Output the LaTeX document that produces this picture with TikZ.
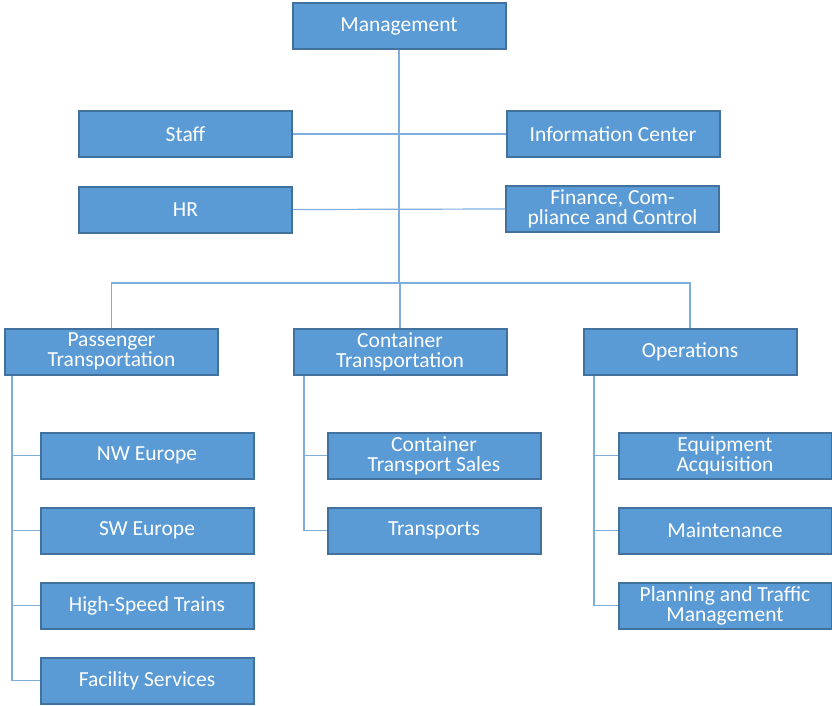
\documentclass[tikz,border=0pt]{standalone}
\usepackage{fontspec}
\setmainfont{Carlito}
\definecolor{boxfill}{HTML}{5B9BD5}
\definecolor{boxline}{HTML}{41719C}
\definecolor{connline}{HTML}{7FAEDD}
\begin{document}
\begin{tikzpicture}[x=1pt,y=-1pt,
  box/.style={rectangle, draw=boxline, line width=2pt, fill=boxfill,
    minimum width=213pt, minimum height=46pt, inner sep=0pt, align=center,
    text=white, font=\fontsize{21.5pt}{20pt}\selectfont},
  conn/.style={draw=connline, line width=1.2pt}]
\useasboundingbox (0,0) rectangle (832,706);
% level 0/1
\node[box] (mgmt) at (399,26.5) {Management};
\node[box] (staff) at (185.5,134) {Staff};
\node[box] (info) at (613,134) {Information Center};
\node[box] (hr) at (185.5,209.5) {HR};
\node[box] (fin) at (612.5,209) {Finance, Com-\\pliance and Control};
% level 2
\node[box] (pass) at (111.5,351.5) {Passenger\\Transportation};
\node[box] (cont) at (400,351.5) {Container\\Transportation};
\node[box] (ops) at (690,351.5) {Operations};
% children
\node[box] (nw) at (147,455.5) {NW Europe};
\node[box] (sw) at (147,530.5) {SW Europe};
\node[box] (hst) at (147,605.5) {High-Speed Trains};
\node[box] (fac) at (147,680.5) {Facility Services};
\node[box] (cts) at (434,455.5) {Container\\Transport Sales};
\node[box] (tr) at (434,530.5) {Transports};
\node[box] (eq) at (725,455.5) {Equipment\\Acquisition};
\node[box] (mt) at (725,530.5) {Maintenance};
\node[box] (plan) at (725,605.5) {Planning and Traffic\\Management};
% bus coordinates
\coordinate (busL) at (111.5,283);
\coordinate (busR) at (690,283);
\coordinate (pL) at (12,376);
\coordinate (cL) at (304,376);
\coordinate (oL) at (594,376);
% connectors
\draw[conn] (mgmt.south) -- (mgmt.south |- busL);
\draw[conn] (staff.east) -- (info.west);
\draw[conn] (hr.east) -- (fin.west);
\draw[conn] (pass.north) -- (busL) -- (busR) -- (ops.north);
\draw[conn] (cont.north) -- (cont.north |- busL);
\draw[conn] (pL) |- (nw.west);
\draw[conn] (pL) |- (sw.west);
\draw[conn] (pL) |- (hst.west);
\draw[conn] (pL) |- (fac.west);
\draw[conn] (cL) |- (cts.west);
\draw[conn] (cL) |- (tr.west);
\draw[conn] (oL) |- (eq.west);
\draw[conn] (oL) |- (mt.west);
\draw[conn] (oL) |- (plan.west);
\end{tikzpicture}
\end{document}
